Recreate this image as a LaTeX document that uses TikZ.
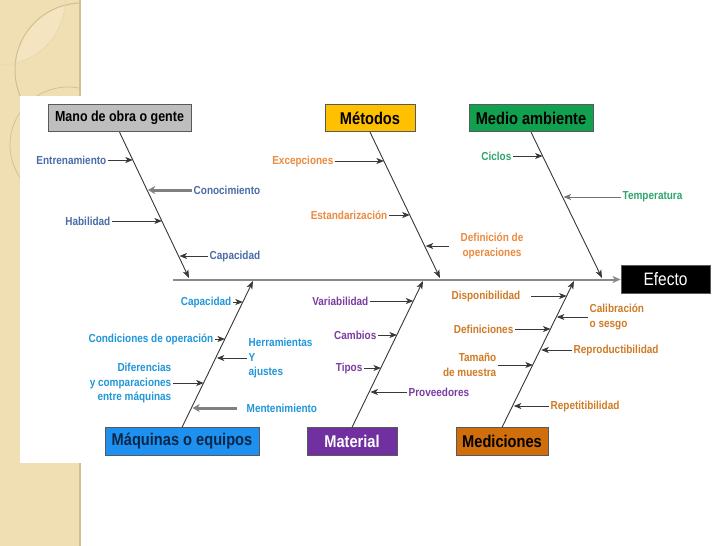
\documentclass[tikz,border=0pt]{standalone}
\usepackage{fontspec}
\setmainfont{Liberation Sans}[FakeStretch=0.86]
\usetikzlibrary{arrows.meta,calc}
\definecolor{beige}{HTML}{F0DFB2}
\definecolor{beigeL}{HTML}{F4E5C0}
\definecolor{beigeD}{HTML}{D3BF8E}
\definecolor{manoF}{HTML}{BEBEBE}
\definecolor{metF}{HTML}{FFC000}
\definecolor{medF}{HTML}{10A04E}
\definecolor{maqF}{HTML}{1E90F0}
\definecolor{matF}{HTML}{7030A0}
\definecolor{mdcF}{HTML}{D06E0C}
\definecolor{manoC}{HTML}{4A6CA8}
\definecolor{metC}{HTML}{EC8A3E}
\definecolor{medC}{HTML}{2EA56C}
\definecolor{maqC}{HTML}{2196D8}
\definecolor{matC}{HTML}{7B3C9F}
\definecolor{mdcC}{HTML}{CF7B25}
\definecolor{maqT}{HTML}{0B2747}
\definecolor{boneC}{HTML}{383838}
\definecolor{spineC}{HTML}{8A8A8A}
\tikzset{
  causebox/.style={draw=black!65, line width=0.8pt, minimum height=27.5pt,
    inner sep=0pt, font=\bfseries\fontsize{17}{17}\selectfont},
  bone/.style={draw=boneC, line width=0.9pt, -{Stealth[length=8pt,width=6pt,inset=2pt]}},
  subarrow/.style={draw=boneC, line width=0.9pt, -{Stealth[length=7.5pt,width=6pt,inset=2pt]}},
  subthick/.style={draw=black!50, line width=3pt, -{Stealth[length=7pt,width=8pt,inset=2pt]}},
  lab/.style={font=\bfseries\fontsize{11.6}{14.5}\selectfont, inner xsep=1.5pt, inner ysep=0pt},
}
\begin{document}
\begin{tikzpicture}[x=1pt,y=-1pt]
\useasboundingbox (0,0) rectangle (728,546);
% background
\fill[white] (0,0) rectangle (728,546);
\fill[beige] (0,0) rectangle (80,546);
\begin{scope}
  \clip (0,0) rectangle (80,546);
  \begin{scope}
    \clip (0,0) circle (65);
    \fill[beigeL] (82,70) circle (67);
  \end{scope}
  \draw[beigeD, line width=1pt] (82,70) circle (67);
  \draw[white!40!beigeD, line width=0.6pt] (0,0) circle (65);
  \draw[beigeD, line width=0.7pt] (68,145) circle (58);
\end{scope}
\fill[beigeD] (79,0) rectangle (81,546);
\fill[white] (20,96) rectangle (728,463);

% cause boxes
\node[causebox, fill=manoF, minimum width=143pt, font=\bfseries\fontsize{14.5}{14.5}\selectfont] (mano) at (119.5,118) {Mano de obra o gente};
\node[causebox, fill=metF, minimum width=90pt] (met) at (370,118) {Métodos};
\node[causebox, fill=medF, minimum width=124pt] (med) at (531,118) {Medio ambiente};
\node[causebox, fill=maqF, minimum width=154pt, text=maqT] (maq) at (182,441.5) {Máquinas o equipos};
\node[causebox, fill=matF, minimum width=90pt, text=white] (mat) at (352,441.5) {Material};
\node[causebox, fill=mdcF, minimum width=92pt] (mdc) at (502,441.5) {Mediciones};
\node[causebox, fill=black, minimum width=89pt, text=white, font=\fontsize{18}{18}\selectfont] (efecto) at (665.5,279.5) {Efecto};

% spine
\coordinate (sL) at (173,279.5);
\draw[draw=spineC, line width=2pt, -{Stealth[length=8pt,width=7pt,inset=2pt]}] (sL) -- (efecto.west);

% bone ends on the spine
\coordinate (manoE) at (189,278);
\coordinate (metE) at (440,278);
\coordinate (medE) at (602,278);
\coordinate (maqE) at (253,281);
\coordinate (matE) at (423,281);
\coordinate (mdcE) at (574,281);
\draw[bone] (mano.south) -- (manoE);
\draw[bone] (met.south) -- (metE);
\draw[bone] (med.south) -- (medE);
\draw[bone] (maq.north) -- (maqE);
\draw[bone] (mat.north) -- (matE);
\draw[bone] (mdc.north) -- (mdcE);

% points on bones
\coordinate (m1) at ($(mano.south)!0.192!(manoE)$);
\coordinate (m2) at ($(mano.south)!0.397!(manoE)$);
\coordinate (m3) at ($(mano.south)!0.610!(manoE)$);
\coordinate (m4) at ($(mano.south)!0.849!(manoE)$);
\coordinate (t1) at ($(met.south)!0.199!(metE)$);
\coordinate (t2) at ($(met.south)!0.568!(metE)$);
\coordinate (t3) at ($(met.south)!0.781!(metE)$);
\coordinate (a1) at ($(med.south)!0.164!(medE)$);
\coordinate (a2) at ($(med.south)!0.445!(medE)$);
\coordinate (q1) at ($(maq.north)!0.857!(maqE)$);
\coordinate (q2) at ($(maq.north)!0.605!(maqE)$);
\coordinate (q3) at ($(maq.north)!0.476!(maqE)$);
\coordinate (q4) at ($(maq.north)!0.306!(maqE)$);
\coordinate (q5) at ($(maq.north)!0.136!(maqE)$);
\coordinate (l1) at ($(mat.north)!0.864!(matE)$);
\coordinate (l2) at ($(mat.north)!0.633!(matE)$);
\coordinate (l3) at ($(mat.north)!0.408!(matE)$);
\coordinate (l4) at ($(mat.north)!0.245!(matE)$);
\coordinate (d1) at ($(mdc.north)!0.898!(mdcE)$);
\coordinate (d2) at ($(mdc.north)!0.748!(mdcE)$);
\coordinate (d3) at ($(mdc.north)!0.673!(mdcE)$);
\coordinate (d4) at ($(mdc.north)!0.531!(mdcE)$);
\coordinate (d5) at ($(mdc.north)!0.429!(mdcE)$);
\coordinate (d6) at ($(mdc.north)!0.150!(mdcE)$);

% Mano de obra
\node[lab, text=manoC, anchor=east] (entr) at (108,160) {Entrenamiento};
\node[lab, text=manoC, anchor=west] (cono) at (192,190) {Conocimiento};
\node[lab, text=manoC, anchor=east] (habi) at (112,221) {Habilidad};
\node[lab, text=manoC, anchor=west] (capa) at (208,256) {Capacidad};
\draw[subarrow] (entr.east) -- (entr.east -| m1);
\draw[subthick] (cono.west) -- ([xshift=1pt]cono.west -| m2);
\draw[subarrow] (habi.east) -- (habi.east -| m3);
\draw[subarrow] (capa.west) -- ([xshift=1pt]capa.west -| m4);

% Métodos
\node[lab, text=metC, anchor=east] (exce) at (335,161) {Excepciones};
\node[lab, text=metC, anchor=east] (esta) at (389,215) {Estandarización};
\node[lab, text=metC, anchor=west, align=center] (defi) at (459,246) {Definición de\\operaciones};
\draw[subarrow] (exce.east) -- (exce.east -| t1);
\draw[subarrow] (esta.east) -- (esta.east -| t2);
\draw[subarrow] ([xshift=-10pt]defi.west) -- ([xshift=1pt]defi.west -| t3);

% Medio ambiente
\node[lab, text=medC, anchor=east] (cicl) at (513,156) {Ciclos};
\node[lab, text=medC, anchor=west] (temp) at (621,197) {Temperatura};
\draw[subarrow] (cicl.east) -- (cicl.east -| a1);
\draw[subarrow, draw=black!55] (temp.west) -- ([xshift=1pt]temp.west -| a2);

% Máquinas o equipos
\node[lab, text=maqC, anchor=east] (capq) at (233,302) {Capacidad};
\node[lab, text=maqC, anchor=east] (cond) at (215,339) {Condiciones de operación};
\node[lab, text=maqC, anchor=west, align=left] (herr) at (247,358) {Herramientas\\Y\\ajustes};
\node[lab, text=maqC, anchor=east, align=right] (dife) at (173,383) {Diferencias\\y comparaciones\\entre máquinas};
\node[lab, text=maqC, anchor=west] (ment) at (245,408) {Mentenimiento};
\draw[subarrow] (capq.east) -- (capq.east -| q1);
\draw[subarrow] (cond.east) -- (cond.east -| q2);
\draw[subarrow] (herr.west) -- ([xshift=1pt]herr.west -| q3);
\draw[subarrow] (dife.east) -- (dife.east -| q4);
\draw[subthick] ([xshift=-8pt]ment.west) -- ([xshift=1pt]ment.west -| q5);

% Material
\node[lab, text=matC, anchor=east] (vari) at (370,301) {Variabilidad};
\node[lab, text=matC, anchor=east] (camb) at (378,335) {Cambios};
\node[lab, text=matC, anchor=east] (tipo) at (364,368) {Tipos};
\node[lab, text=matC, anchor=west] (prov) at (407,392) {Proveedores};
\draw[subarrow] (vari.east) -- (vari.east -| l1);
\draw[subarrow] (camb.east) -- (camb.east -| l2);
\draw[subarrow] (tipo.east) -- (tipo.east -| l3);
\draw[subarrow] (prov.west) -- ([xshift=1pt]prov.west -| l4);

% Mediciones
\node[lab, text=mdcC, anchor=east] (disp) at (522,296) {Disponibilidad};
\node[lab, text=mdcC, anchor=west, align=left] (cali) at (588,317) {Calibración\\o sesgo};
\node[lab, text=mdcC, anchor=east] (defs) at (515,329) {Definiciones};
\node[lab, text=mdcC, anchor=west] (repr) at (572,350) {Reproductibilidad};
\node[lab, text=mdcC, anchor=east, align=right] (tama) at (498,365) {Tamaño\\de muestra};
\node[lab, text=mdcC, anchor=west] (repe) at (549,406) {Repetitibilidad};
\draw[subarrow] ([xshift=9pt]disp.east) -- (disp.east -| d1);
\draw[subarrow] (cali.west) -- ([xshift=1pt]cali.west -| d2);
\draw[subarrow] (defs.east) -- (defs.east -| d3);
\draw[subarrow] (repr.west) -- ([xshift=1pt]repr.west -| d4);
\draw[subarrow] (tama.east) -- (tama.east -| d5);
\draw[subarrow] (repe.west) -- ([xshift=1pt]repe.west -| d6);
\end{tikzpicture}
\end{document}
